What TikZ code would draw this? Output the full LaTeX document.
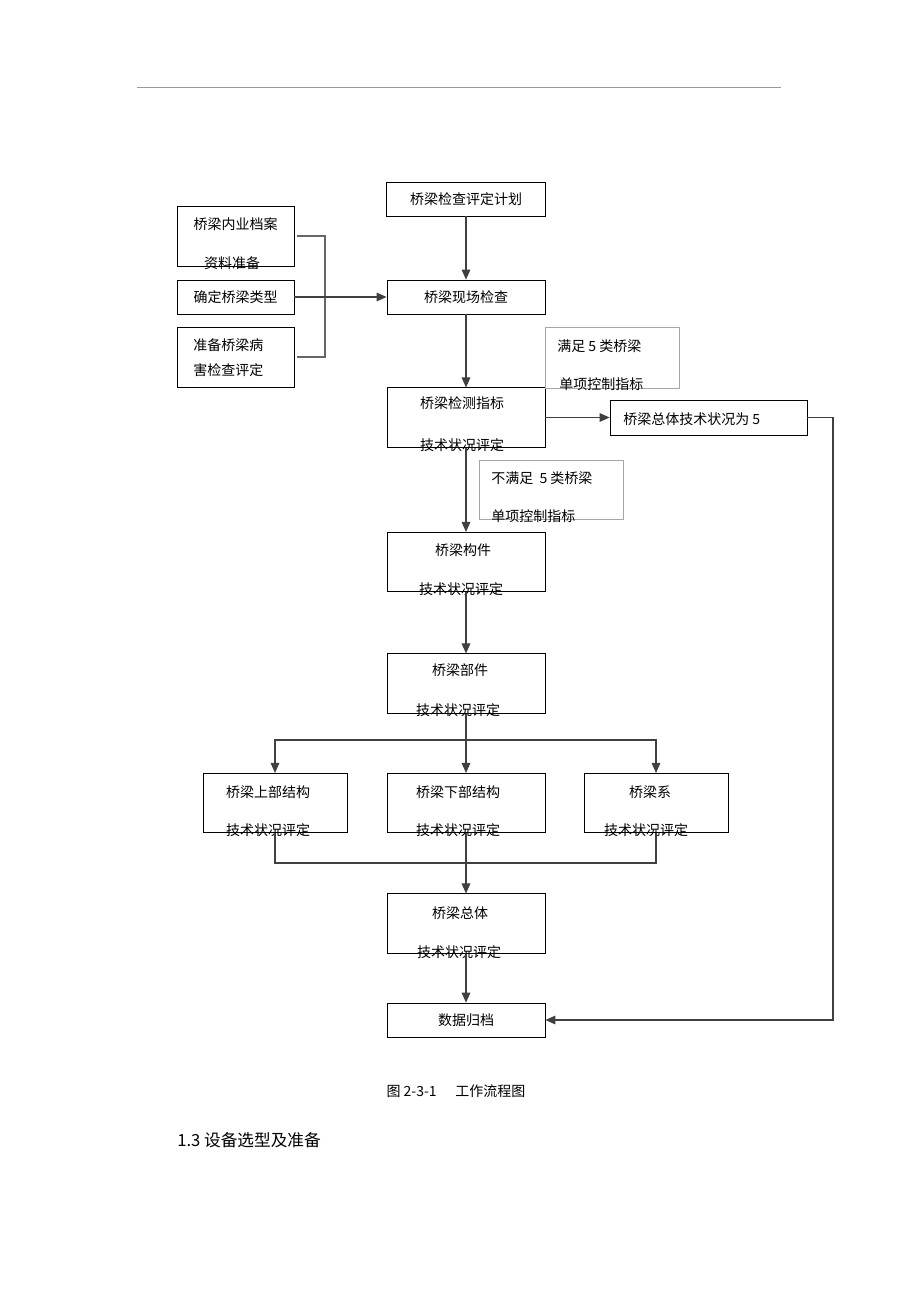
\documentclass[tikz,border=0pt]{standalone}
\usepackage{fontspec}
\setmainfont{Noto Sans CJK SC}
\usetikzlibrary{arrows.meta,positioning}

\begin{document}
\begin{tikzpicture}[
    x=0.75pt, y=-0.75pt,
    every node/.style={inner sep=0pt, text height=9.2pt, text depth=1.3pt,
        font=\fontsize{10.5}{12}\selectfont},
    box/.style={draw, line width=0.6pt, minimum width=118.5pt, minimum height=25.5pt},
    tallbox/.style={box, minimum height=44.5pt},
    sidebox/.style={draw, line width=0.6pt, minimum width=87.75pt, minimum height=25.5pt},
    notebox/.style={draw=black!35, line width=0.5pt},
    wire/.style={draw=black!75, line width=0.8pt},
    arr/.style={wire, -{Triangle[length=7.5pt,width=6.5pt]}}
]
\fill[white] (0,0) rectangle (920,1303);
\draw[black!40, line width=0.5pt] (137,87) -- (781,87);

% main column
\node[box, minimum width=119.25pt] (plan) at (466,199) {桥梁检查评定计划};
\node[box] (site) at (466,297) {桥梁现场检查};
\node[tallbox] (index) at (466,417.5) {};
\node (index-a) at (462,403) {桥梁检测指标};
\node (index-b) at (462,445) {技术状况评定};
\node[tallbox] (member) at (466,562) {};
\node (member-a) at (463,550) {桥梁构件};
\node (member-b) at (461,589) {技术状况评定};
\node[tallbox] (part) at (466,683.5) {};
\node (part-a) at (460,670) {桥梁部件};
\node (part-b) at (458,710) {技术状况评定};
\node[tallbox] (overall) at (466,923.5) {};
\node (overall-a) at (460,913) {桥梁总体};
\node (overall-b) at (459,952) {技术状况评定};
\node[box] (data) at (466,1020) {数据归档};

% preparation on the left
\node[sidebox, minimum height=45pt] (l1) at (235.5,236) {};
\node (l1-a) at (235.5,224) {桥梁内业档案};
\node (l1-b) at (232,263) {资料准备};
\node[sidebox] (l2) at (235.5,297) {确定桥梁类型};
\node[sidebox, minimum height=45pt] (l3) at (235.5,357) {};
\node[anchor=west] (l3-a) at (193,345) {准备桥梁病};
\node[anchor=west] (l3-b) at (193,370) {害检查评定};

% conditions
\node[notebox, minimum width=100.5pt, minimum height=45.75pt] (n1) at (612,357.5) {};
\node[anchor=west] (n1-a) at (557,346) {满足 5 类桥梁};
\node[anchor=west] (n1-b) at (559,384) {单项控制指标};
\node[notebox, minimum width=108pt, minimum height=44.25pt] (n2) at (551,489.5) {};
\node[anchor=west] (n2-a) at (491,478) {不满足\ \ 5 类桥梁};
\node[anchor=west] (n2-b) at (491,516) {单项控制指标};
\node[box, minimum width=147.75pt, minimum height=26.25pt] (t5) at (708.5,417.5) {};
\node[anchor=west] (t5-a) at (623,419) {桥梁总体技术状况为 5};

% three parts
\node[tallbox, minimum width=108pt] (up) at (275,803) {};
\node (up-a) at (268,792) {桥梁上部结构};
\node (up-b) at (268,830) {技术状况评定};
\node[tallbox] (down) at (466,803) {};
\node (down-a) at (458,792) {桥梁下部结构};
\node (down-b) at (458,830) {技术状况评定};
\node[tallbox, minimum width=108pt] (sys) at (656,803) {};
\node (sys-a) at (650,792) {桥梁系};
\node (sys-b) at (646,830) {技术状况评定};

% captions
\node (cap) at (456,1091) {图 2-3-1\hspace{14pt}工作流程图};
\node[anchor=west, font=\fontsize{12.5}{14}\selectfont] (sec) at (177,1141) {1.3 设备选型及准备};

% connectors
\coordinate (bx) at (325,297);
\coordinate (rside) at (833,0);
\coordinate (split) at (466,740);
\coordinate (join) at (466,863);
\draw[wire, draw=black!60] ([xshift=2pt]l1.east) -| (bx) |- ([xshift=2pt]l3.east);
\draw[arr] (l2) -- (site);
\draw[arr] (plan) -- (site);
\draw[arr] (site) -- (index);
\draw[arr] (index) -- (t5);
\draw[arr] (t5.east) -- (t5.east -| rside) -- (data.east -| rside) -- (data.east);
\draw[arr] (index) -- (member);
\draw[arr] (member) -- (part);
\draw[wire] (part) -- (split);
\draw[arr] (split) -| (up);
\draw[arr] (split) -- (down);
\draw[arr] (split) -| (sys);
\draw[wire] (up) |- (join) -| (sys);
\draw[arr] (down) -- (overall);
\draw[arr] (overall) -- (data);
\end{tikzpicture}
\end{document}
